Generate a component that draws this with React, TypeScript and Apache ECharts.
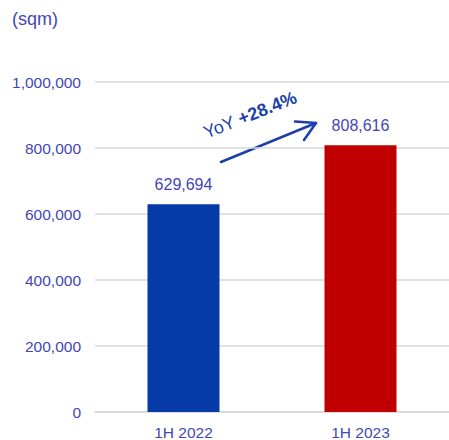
import React, { useEffect, useRef } from "react";
import * as echarts from "echarts";

const categories = ["1H 2022", "1H 2023"];
const values = [629694, 808616];
const barColors = ["#063AA8", "#C00000"];
const unitLabel = "(sqm)";
const yoyPrefix = "YoY ";
const yoyValue = "+28.4%";

const textColor = "#4347B5";
const font = "Liberation Sans, Arial, sans-serif";

export default function App() {
  const ref = useRef<HTMLDivElement>(null);
  useEffect(() => {
    if (!ref.current) return;
    document.body.style.overflow = "hidden";
    document.body.style.margin = "0";
    const chart = echarts.init(ref.current, undefined, { renderer: "svg" });
    chart.setOption({
      animation: false,
      textStyle: { fontFamily: font },
      grid: { left: 95, width: 359, top: 82, bottom: 28, containLabel: false },
      xAxis: {
        type: "category",
        data: categories,
        axisLine: { show: true, lineStyle: { color: "#D9D9D9", width: 1.5 } },
        axisTick: { show: false },
        axisLabel: { color: textColor, fontSize: 15.5, margin: 12 },
      },
      yAxis: {
        type: "value",
        min: 0,
        max: 1000000,
        interval: 200000,
        axisLine: { show: false },
        axisTick: { show: false },
        splitLine: { lineStyle: { color: "#D9D9D9", width: 1.5 } },
        axisLabel: {
          color: textColor,
          fontSize: 15.5,
          margin: 14,
          formatter: (v: number) => v.toLocaleString("en-US"),
        },
      },
      series: [
        {
          type: "bar",
          barWidth: 72,
          data: values.map((v, i) => ({ value: v, itemStyle: { color: barColors[i] } })),
          label: {
            show: true,
            position: "top",
            distance: 12,
            color: textColor,
            fontSize: 16,
            formatter: (p: any) => Number(p.value).toLocaleString("en-US"),
          },
        },
      ],
      graphic: [
        {
          type: "text",
          left: 12,
          top: 10,
          style: { text: unitLabel, fill: textColor, fontSize: 18, fontFamily: font },
        },
        {
          type: "text",
          x: 250,
          y: 115,
          rotation: 0.38,
          style: {
            text: `{a|${yoyPrefix}}{b|${yoyValue}}`,
            align: "center",
            verticalAlign: "middle",
            rich: {
              a: { fill: "#1B3FAA", fontSize: 18, fontFamily: font },
              b: { fill: "#1B3FAA", fontSize: 18, fontWeight: "bold", fontFamily: font },
            },
          },
        },
        {
          type: "polyline",
          shape: { points: [[221, 162], [316, 123]] },
          style: { stroke: "#1B3FAA", lineWidth: 2.5, fill: "none", lineCap: "round" },
        },
        {
          type: "polyline",
          shape: { points: [[295, 121.5], [316, 123], [304, 140]] },
          style: { stroke: "#1B3FAA", lineWidth: 2.5, fill: "none", lineCap: "round", lineJoin: "round" },
        },
      ],
    });
    return () => chart.dispose();
  }, []);
  return <div ref={ref} style={{ position: "absolute", left: 0, top: 0, width: 449, height: 440, overflow: "hidden" }} />;
}
